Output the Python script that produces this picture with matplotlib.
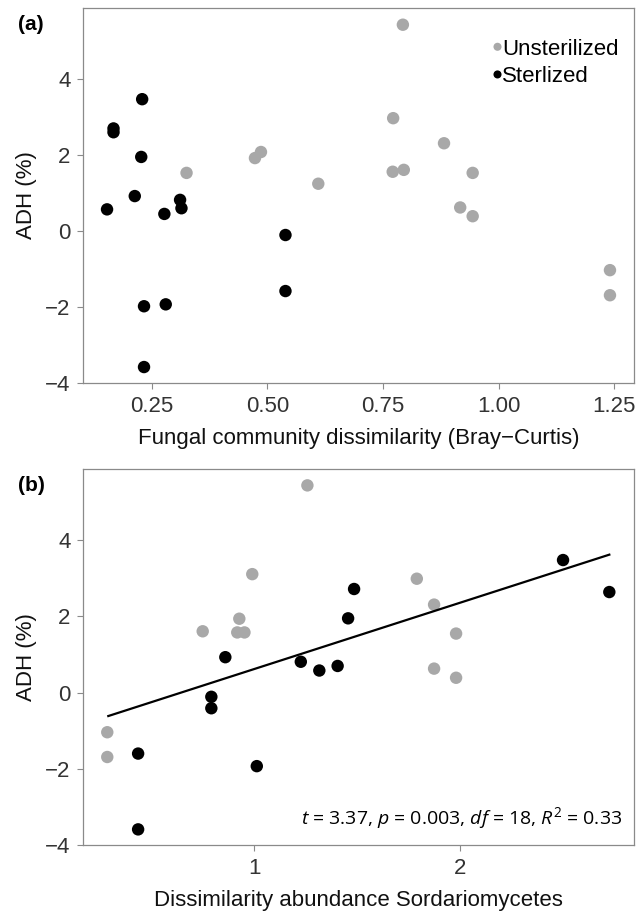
import matplotlib
matplotlib.use("Agg")
import matplotlib.pyplot as plt
import numpy as np

plt.rcParams['font.family'] = ['Liberation Sans', 'DejaVu Sans']
plt.rcParams['mathtext.fontset'] = 'custom'
plt.rcParams['mathtext.rm'] = 'Open Sans'
plt.rcParams['mathtext.it'] = 'Open Sans:italic'

# Panel (a): fungal community dissimilarity vs ADH
a_unst_x = [0.325, 0.473, 0.486, 0.610, 0.793, 0.772, 0.882, 0.771, 0.795, 0.944, 0.917, 0.944, 1.241, 1.241]
a_unst_y = [1.53, 1.92, 2.08, 1.245, 5.43, 2.97, 2.31, 1.56, 1.61, 1.53, 0.62, 0.39, -1.03, -1.69]
a_ster_x = [0.153, 0.167, 0.167, 0.229, 0.227, 0.213, 0.277, 0.311, 0.314, 0.233, 0.280, 0.233, 0.539, 0.539]
a_ster_y = [0.57, 2.70, 2.60, 3.47, 1.95, 0.92, 0.45, 0.82, 0.60, -1.98, -1.93, -3.58, -0.105, -1.58]

# Panel (b): dissimilarity abundance Sordariomycetes vs ADH
b_unst_x = [1.258, 0.990, 0.749, 0.927, 0.917, 0.952, 0.285, 0.285, 1.790, 1.874, 1.981, 1.874, 1.981]
b_unst_y = [5.44, 3.11, 1.61, 1.94, 1.58, 1.58, -1.04, -1.69, 2.99, 2.31, 1.55, 0.63, 0.39]
b_ster_x = [0.435, 0.435, 0.791, 0.791, 0.859, 1.012, 1.226, 1.316, 1.405, 1.456, 1.485, 2.501, 2.726]
b_ster_y = [-1.60, -3.59, -0.11, -0.41, 0.93, -1.93, 0.81, 0.58, 0.70, 1.95, 2.72, 3.48, 2.64]

# fitted line
fit_intercept = -1.119
fit_slope = 1.739
fit_x_range = [0.290, 2.726]

a_xticks = [0.25, 0.50, 0.75, 1.00, 1.25]
a_xticklabels = ['0.25', '0.50', '0.75', '1.00', '1.25']
b_xticks = [1, 2]
yticks = [-4, -2, 0, 2, 4]
legend_labels = ['Unsterilized', 'Sterlized']

GRAY = '#a8a8a8'
BLACK = '#000000'
FRAME = '#8a8a8a'
TICKC = '#333333'

fig = plt.figure(figsize=(6.38, 9.17), dpi=100)
axA = fig.add_axes([83/638, 1-383/917, (634-83)/638, (383-8)/917])
axB = fig.add_axes([83/638, 1-845/917, (634-83)/638, (845-469)/917])

ms = 80
for ax in (axA, axB):
    for s in ax.spines.values():
        s.set_color(FRAME)
        s.set_linewidth(0.9)
    ax.tick_params(direction='out', length=4, width=0.8, color=FRAME,
                   labelsize=16, labelcolor=TICKC, pad=5)
    ax.set_yticks(yticks)
    ax.set_yticklabels(['\u22124', '\u22122', '0', '2', '4'])
    ax.set_ylim(-4, 5.87)
    ax.set_ylabel('ADH (%)', fontsize=16, color='#111111', labelpad=6)

# Panel A
axA.scatter(a_unst_x, a_unst_y, s=ms, color=GRAY, edgecolors='none', zorder=3, label=legend_labels[0])
axA.scatter(a_ster_x, a_ster_y, s=ms, color=BLACK, edgecolors='none', zorder=3, label=legend_labels[1])
axA.set_xlim(0.101, 1.293)
axA.set_xticks(a_xticks)
axA.set_xticklabels(a_xticklabels)
axA.set_xlabel('Fungal community dissimilarity (Bray\u2212Curtis)', fontsize=16, color='#111111', labelpad=8)
leg = axA.legend(loc='upper right', bbox_to_anchor=(1.0, 0.96), frameon=False, fontsize=16,
                 handletextpad=-0.3, markerscale=0.65, labelspacing=0.3, borderpad=0.2,
                 scatteryoffsets=[0.5], handlelength=1.0)
axA.text(-0.118, 0.957, '(a)', transform=axA.transAxes, fontsize=15, fontweight='bold', va='center', ha='left')

# Panel B
axB.scatter(b_unst_x, b_unst_y, s=ms, color=GRAY, edgecolors='none', zorder=3)
axB.scatter(b_ster_x, b_ster_y, s=ms, color=BLACK, edgecolors='none', zorder=3)
fx = np.array(fit_x_range)
axB.plot(fx, fit_intercept + fit_slope * fx, color='black', lw=1.6, zorder=4)
axB.set_xlim(0.167, 2.846)
axB.set_xticks(b_xticks)
axB.set_xticklabels(['1', '2'])
axB.set_xlabel('Dissimilarity abundance Sordariomycetes', fontsize=16, color='#111111', labelpad=8)
axB.text(0.978, 0.072, r'$t$ = 3.37, $p$ = 0.003, $df$ = 18, $R^2$ = 0.33',
         transform=axB.transAxes, fontsize=14, ha='right', va='center', family='Open Sans')
axB.text(-0.118, 0.957, '(b)', transform=axB.transAxes, fontsize=15, fontweight='bold', va='center', ha='left')

fig.savefig('out.png', dpi=100)
